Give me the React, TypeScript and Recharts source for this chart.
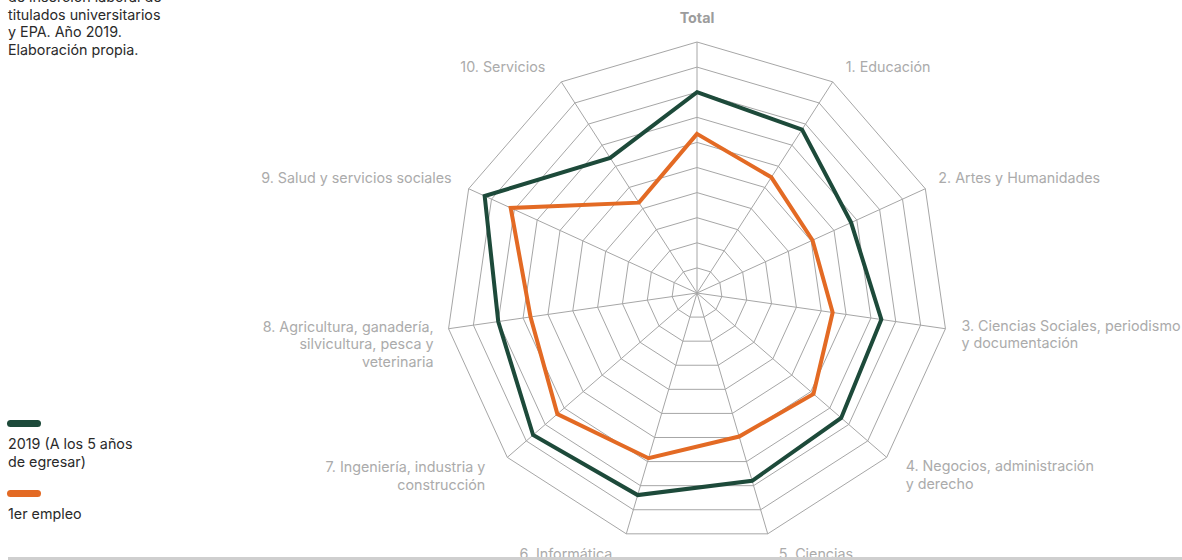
import React from "react";
import {
  RadarChart,
  Radar,
  PolarGrid,
  PolarAngleAxis,
  PolarRadiusAxis,
} from "recharts";

// categorías (eje angular), empezando arriba y en sentido horario
const categories = [
  "Total",
  "1. Educación",
  "2. Artes y Humanidades",
  "3. Ciencias Sociales, periodismo y documentación",
  "4. Negocios, administración y derecho",
  "5. Ciencias",
  "6. Informática",
  "7. Ingeniería, industria y construcción",
  "8. Agricultura, ganadería, silvicultura, pesca y veterinaria",
  "9. Salud y servicios sociales",
  "10. Servicios",
];

// etiquetas partidas en líneas como en el original
const tickLabels = [
  ["Total"],
  ["1. Educación"],
  ["2. Artes y Humanidades"],
  ["3. Ciencias Sociales, periodismo", "y documentación"],
  ["4. Negocios, administración", "y derecho"],
  ["5. Ciencias"],
  ["6. Informática"],
  ["7. Ingeniería, industria y", "construcción"],
  ["8. Agricultura, ganadería,", "silvicultura, pesca y", "veterinaria"],
  ["9. Salud y servicios sociales"],
  ["10. Servicios"],
];

const after5Years = [80, 77.4, 67.5, 74.2, 76, 78, 83.9, 86.4, 80, 93, 64];
const firstJob = [63.4, 54.8, 50.6, 54.6, 61.4, 59.6, 68.6, 73.6, 67, 81.6, 42.8];

const data = categories.map((name, i) => ({
  name,
  a5: after5Years[i],
  first: firstJob[i],
}));

const CX = 697;
const CY = 293;
const R = 251;
const GREEN = "#1d4a3a";
const ORANGE = "#e36a24";
const LABEL = "#ababab";
const FONT = "Inter, 'Noto Sans', sans-serif";
const FS = 14.3;

// desplazamiento de cada etiqueta respecto al vértice exterior
const labelLayout: { dx: number; dy: number; anchor: "start" | "middle" | "end" }[] = [
  { dx: 0, dy: -24, anchor: "middle" },
  { dx: 13, dy: -15, anchor: "start" },
  { dx: 13, dy: -11, anchor: "start" },
  { dx: 16, dy: -3, anchor: "start" },
  { dx: 19, dy: 9, anchor: "start" },
  { dx: 11, dy: 20, anchor: "start" },
  { dx: -14, dy: 20, anchor: "end" },
  { dx: -22, dy: 10, anchor: "end" },
  { dx: -15, dy: -2, anchor: "end" },
  { dx: -17, dy: -11, anchor: "end" },
  { dx: -16, dy: -15, anchor: "end" },
];

function AngleTick(props: any) {
  const { payload, index } = props;
  const i = typeof index === "number" ? index : categories.indexOf(payload.value);
  const rad = (-payload.coordinate * Math.PI) / 180;
  const vx = CX + Math.cos(rad) * R;
  const vy = CY + Math.sin(rad) * R;
  const lay = labelLayout[i];
  const lines = tickLabels[i];
  const isTotal = i === 0;
  return (
    <text
      x={vx + lay.dx}
      y={vy + lay.dy + 5}
      textAnchor={lay.anchor}
      fontFamily={FONT}
      fontSize={FS}
      fontWeight={isTotal ? 700 : 400}
      fill={isTotal ? "#9c9c9c" : LABEL}
    >
      {lines.map((l, k) => (
        <tspan key={k} x={vx + lay.dx} dy={k === 0 ? 0 : 17.6}>
          {l}
        </tspan>
      ))}
    </text>
  );
}

const textStyle: React.CSSProperties = {
  position: "absolute",
  left: 8,
  fontFamily: FONT,
  fontSize: FS,
  lineHeight: "17.5px",
  color: "#2a2a2a",
  whiteSpace: "nowrap",
};

export default function App() {
  return (
    <div
      style={{
        position: "absolute",
        top: 0,
        left: 0,
        width: 1182,
        height: 560,
        overflow: "hidden",
        background: "#fff",
      }}
    >
      <div style={{ ...textStyle, top: -12 }}>
        de inserción laboral de
        <br />
        titulados universitarios
        <br />
        y EPA. Año 2019.
        <br />
        Elaboración propia.
      </div>

      <div style={{ position: "absolute", top: 0, left: 0 }}>
        <RadarChart
          width={1182}
          height={557}
          data={data}
          cx={CX}
          cy={CY}
          outerRadius={R}
          margin={{ top: 0, right: 0, bottom: 0, left: 0 }}
        >
          <PolarGrid gridType="polygon" stroke="#a6a6a6" strokeWidth={1} />
          <PolarRadiusAxis
            domain={[0, 100]}
            tickCount={11}
            tick={false}
            axisLine={false}
          />
          <PolarAngleAxis
            dataKey="name"
            tick={<AngleTick />}
            tickLine={false}
            axisLine={false}
          />
          <Radar
            dataKey="first"
            name="1er empleo"
            stroke={ORANGE}
            strokeWidth={4}
            fill="none"
            fillOpacity={0}
            dot={false}
            isAnimationActive={false}
          />
          <Radar
            dataKey="a5"
            name="2019 (A los 5 años de egresar)"
            stroke={GREEN}
            strokeWidth={4}
            fill="none"
            fillOpacity={0}
            dot={false}
            isAnimationActive={false}
          />
        </RadarChart>
      </div>

      {/* leyenda */}
      <div
        style={{
          position: "absolute",
          left: 7,
          top: 420,
          width: 34,
          height: 7,
          borderRadius: 4,
          background: GREEN,
        }}
      />
      <div style={{ ...textStyle, top: 435 }}>
        2019 (A los 5 años
        <br />
        de egresar)
      </div>
      <div
        style={{
          position: "absolute",
          left: 7,
          top: 490,
          width: 34,
          height: 7,
          borderRadius: 4,
          background: ORANGE,
        }}
      />
      <div style={{ ...textStyle, top: 505 }}>1er empleo</div>

      <div
        style={{
          position: "absolute",
          left: 8,
          right: 0,
          top: 557,
          height: 3,
          background: "#cfcfcf",
        }}
      />
    </div>
  );
}
